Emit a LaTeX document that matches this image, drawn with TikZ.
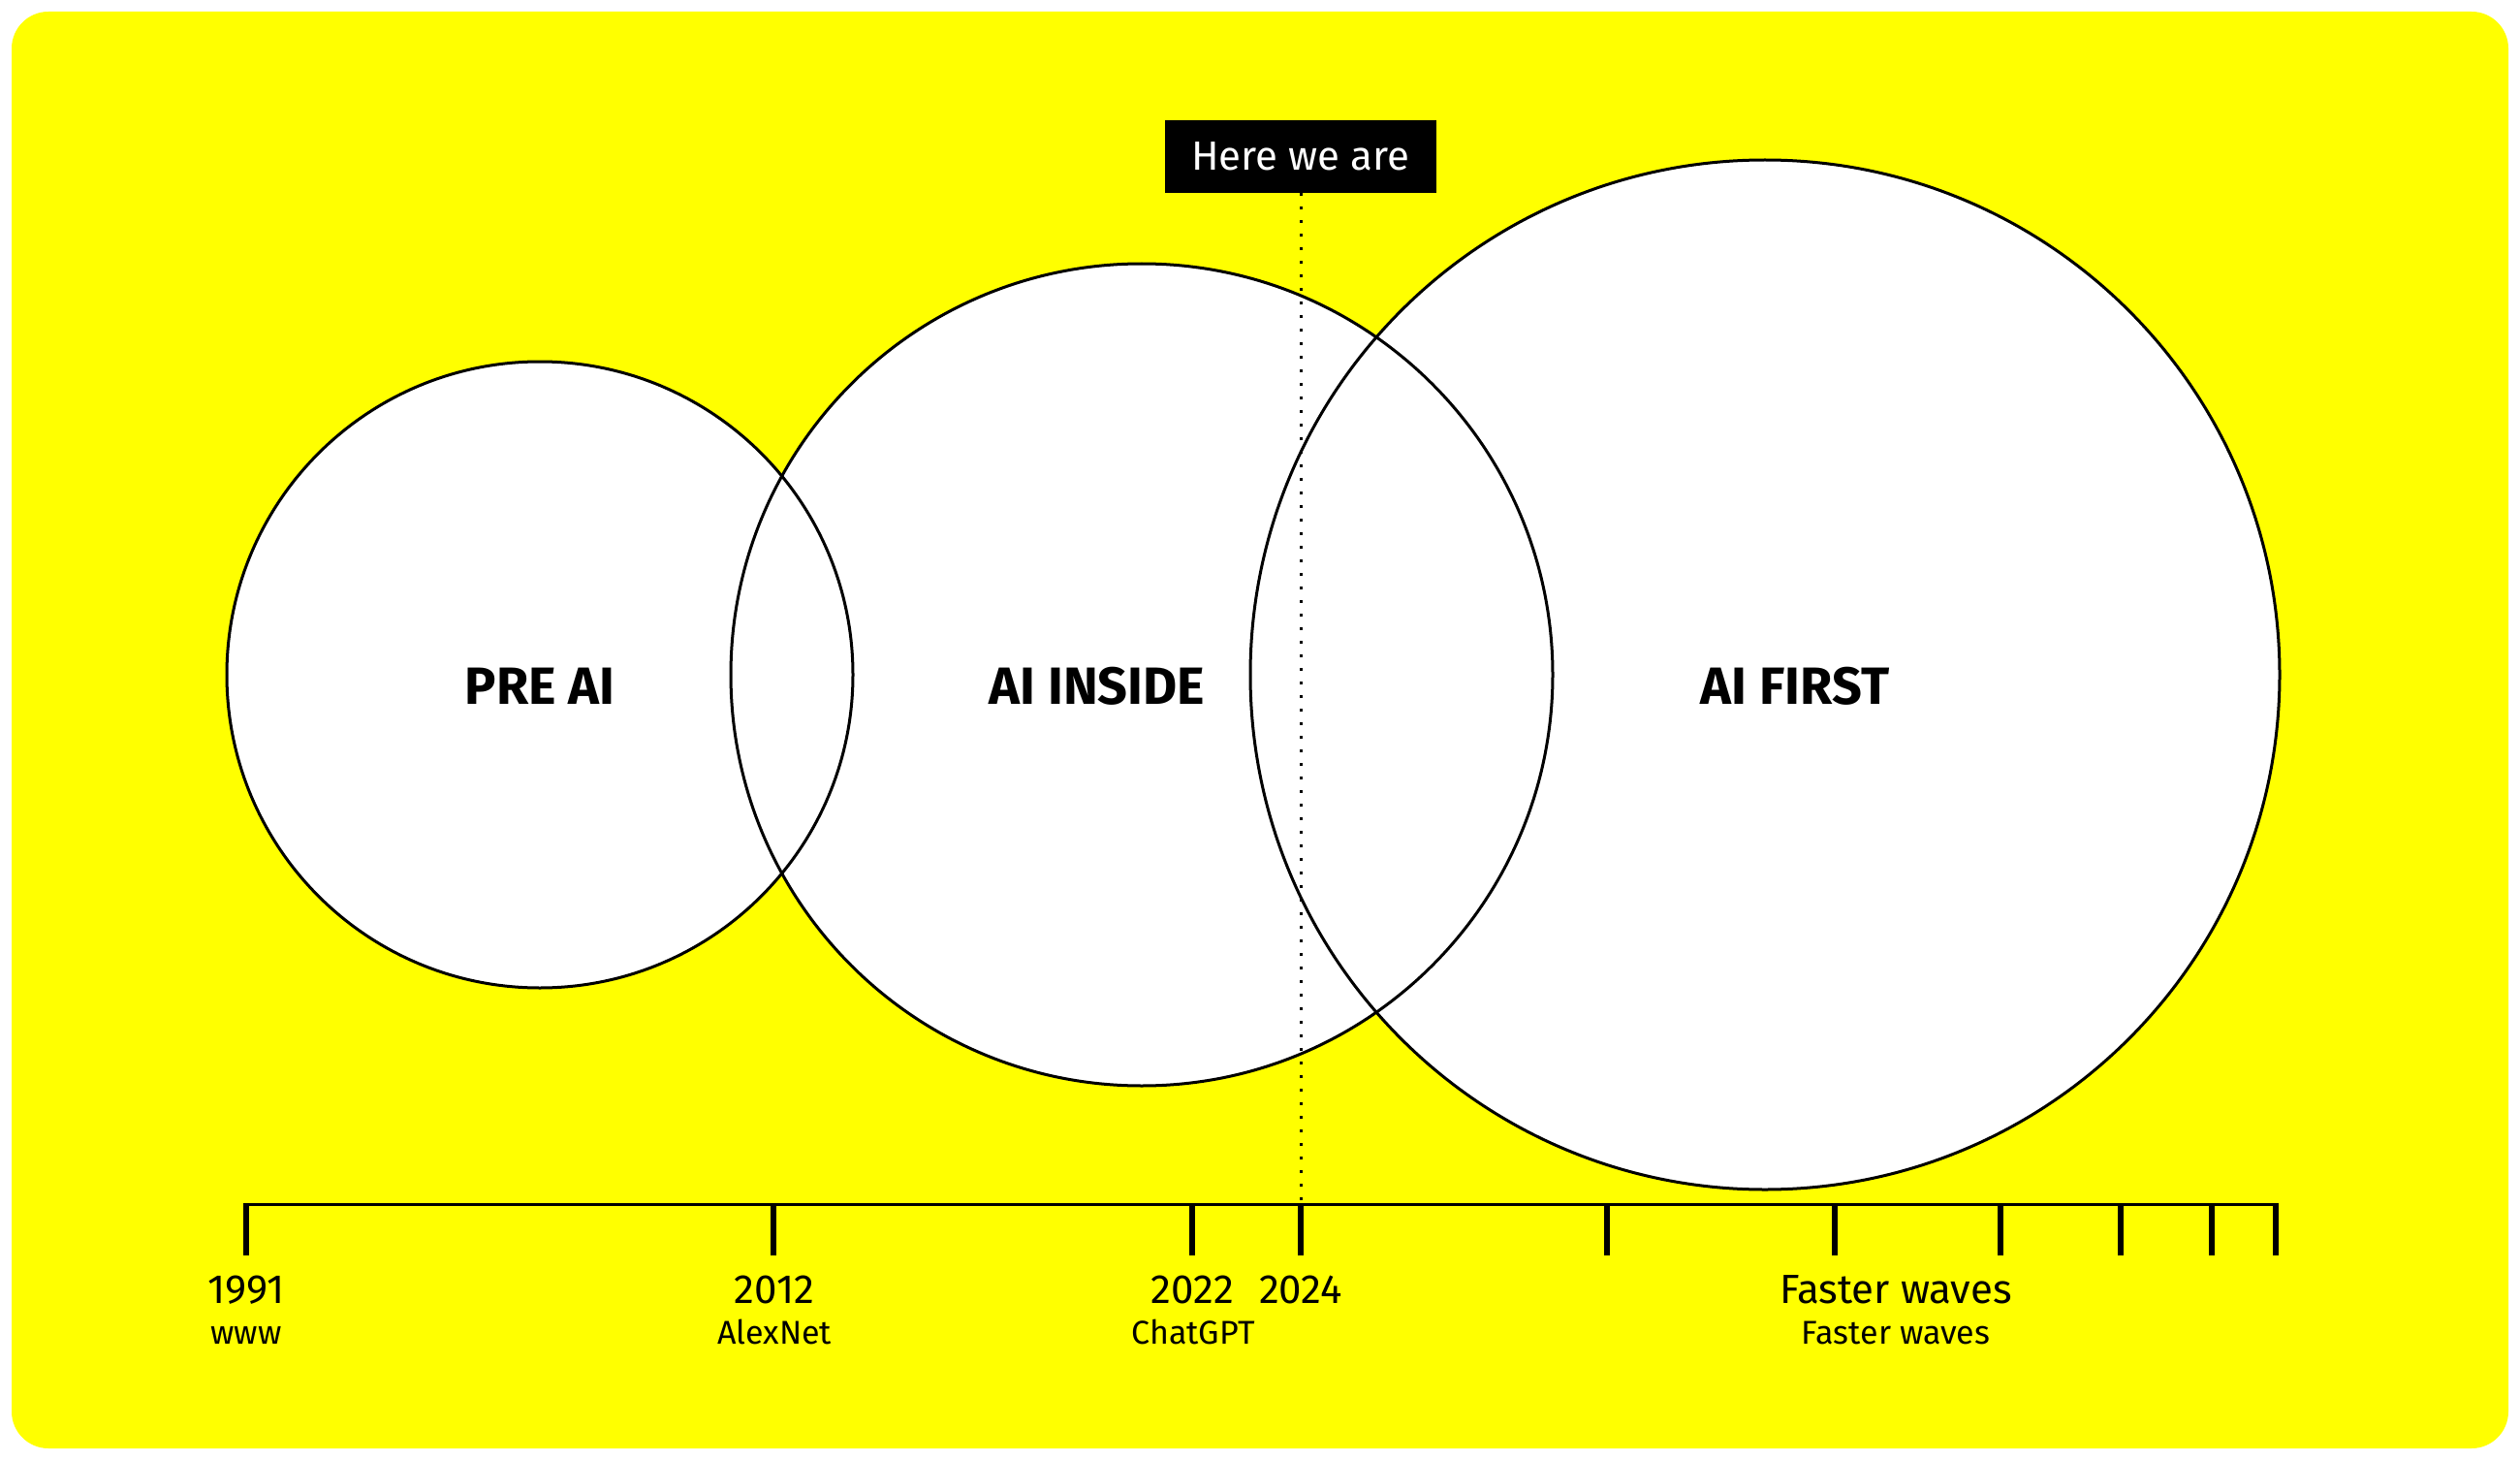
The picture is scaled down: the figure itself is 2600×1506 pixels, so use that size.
\documentclass[tikz,border=0pt]{standalone}
\usepackage{fontspec}
\setmainfont{Fira Sans}
\definecolor{bgyellow}{HTML}{FFFF00}
\begin{document}
\begin{tikzpicture}[x=1pt,y=-1pt,
  ring/.style={circle,draw=black,line width=3pt,inner sep=0pt},
  biglabel/.style={font=\fontsize{54}{60}\selectfont\bfseries,anchor=base},
  yearlabel/.style={font=\fontsize{42}{48}\selectfont,anchor=base},
  sublabel/.style={font=\fontsize{34}{40}\selectfont,anchor=base},
  tickline/.style={line width=6pt},
  axisline/.style={line width=3.5pt},
  marker/.style={line width=3pt,dash pattern=on 3pt off 11pt},
  herebox/.style={fill=black,text=white,minimum width=280pt,minimum height=75pt,inner sep=0pt,font=\fontsize{42}{48}\selectfont},
]
\useasboundingbox (0,0) rectangle (2600,1506);
\fill[white] (0,0) rectangle (2600,1506);
\fill[bgyellow,rounded corners=38pt] (12,12) rectangle (2588,1494);

% circle fills
\fill[white] (557,696) circle[radius=323];
\fill[white] (1178,696) circle[radius=424];
\fill[white] (1821,696) circle[radius=531];

% circle outlines
\node[ring,minimum size=646pt] (pre) at (557,696) {};
\node[ring,minimum size=848pt] (inside) at (1178,696) {};
\node[ring,minimum size=1062pt] (first) at (1821,696) {};

\node[biglabel] (preL) at (557,726) {PRE AI};
\node[biglabel] (insideL) at (1132,726) {AI INSIDE};
\node[biglabel] (firstL) at (1852,726) {AI FIRST};

% timeline
\foreach \n/\x in {t1/253.5,t2/798,t3/1230,t4/1342,t5/1658,t6/1893,t7/2064,t8/2188,t9/2282,t10/2348}{
  \coordinate (\n) at (\x,1242.5);
  \draw[tickline] (\n) -- ++(0,52);
}
\draw[axisline] ([xshift=-3pt]t1) -- ([xshift=3pt]t10);

% here we are
\node[herebox] (here) at (1342,161.5) {Here we are};
\draw[marker] (here.south) -- (t4);

% labels
\node[yearlabel] (y1991) at (254,1344) {1991};
\node[sublabel] (s1991) at (254,1386) {www};
\node[yearlabel] (y2012) at (799,1344) {2012};
\node[sublabel] (s2012) at (799,1386) {AlexNet};
\node[yearlabel] (y2022) at (1230.5,1344) {2022};
\node[sublabel] (s2022) at (1231,1386) {ChatGPT};
\node[yearlabel] (y2024) at (1342,1344) {2024};
\node[yearlabel] (yfast) at (1956,1344) {Faster waves};
\node[sublabel] (sfast) at (1956,1386) {Faster waves};
\end{tikzpicture}
\end{document}
